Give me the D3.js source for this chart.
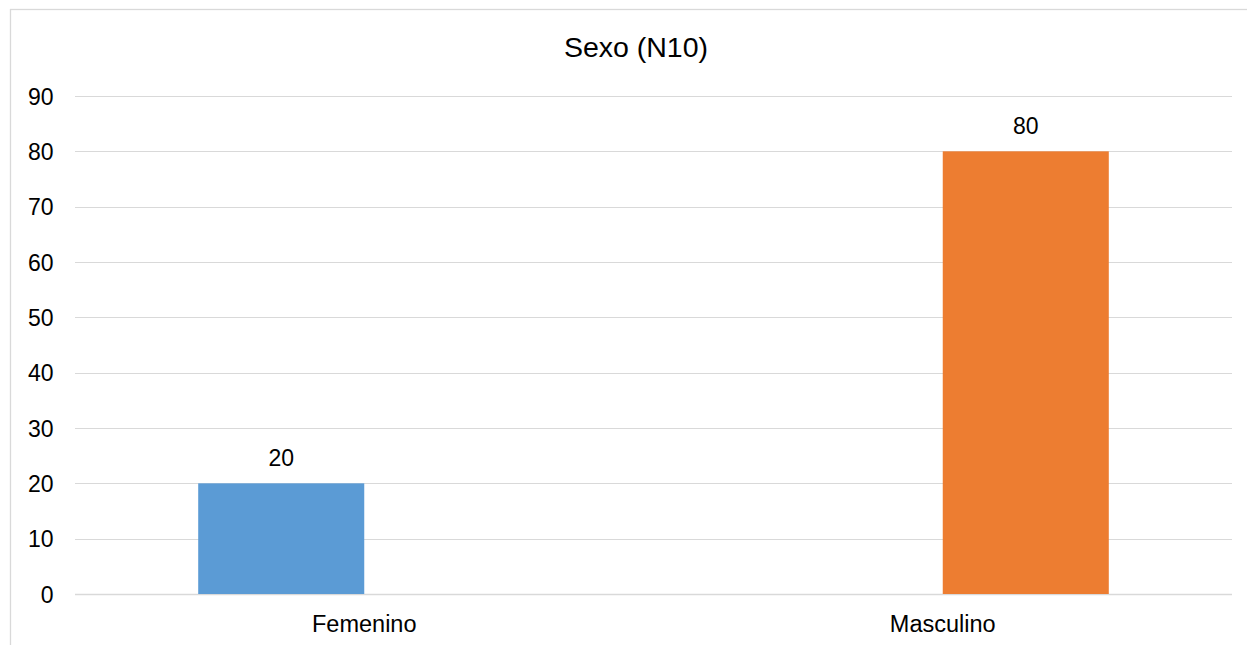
<!DOCTYPE html>
<html>
<head>
<meta charset="utf-8">
<script src="https://cdn.jsdelivr.net/npm/d3@7"></script>
<style>
  html, body { margin: 0; padding: 0; background: #fff; }
  svg { display: block; font-family: "Liberation Sans", Arial, sans-serif; }
</style>
</head>
<body>
<svg id="chart" width="1247" height="645"></svg>
<script>
// Chart data
const title = "Sexo (N10)";
const categories = ["Femenino", "Masculino"];
const seriesNames = ["Femenino", "Masculino"];
const seriesFemenino = [20, null];
const seriesMasculino = [null, 80];
const yTicks = [0, 10, 20, 30, 40, 50, 60, 70, 80, 90];
const colors = ["#5B9BD5", "#ED7D31"];

const svg = d3.select("#chart");
const W = 1247, H = 645;

// Outer chart frame (continues past the right and bottom edges)
svg.append("rect")
  .attr("x", 10.5).attr("y", 9.5)
  .attr("width", 1280).attr("height", 700)
  .attr("fill", "#fff")
  .attr("stroke", "#d9d9d9")
  .attr("stroke-width", 1.3);

const plot = { left: 75, right: 1232, top: 96, bottom: 594 };

const y = d3.scaleLinear().domain([0, 90]).range([plot.bottom, plot.top]);
const x0 = d3.scaleBand().domain(categories).range([plot.left, plot.right]).paddingInner(0).paddingOuter(0);
// Two series share each category slot; gap of ~74% of a bar on each side
const x1 = d3.scaleBand().domain(seriesNames).range([0, x0.bandwidth()]).paddingInner(0).paddingOuter(0.742);

// Gridlines
svg.append("g")
  .selectAll("line")
  .data(yTicks)
  .join("line")
  .attr("x1", plot.left).attr("x2", plot.right)
  .attr("y1", d => Math.round(y(d)) + 0.5).attr("y2", d => Math.round(y(d)) + 0.5)
  .attr("stroke", "#d9d9d9")
  .attr("stroke-width", d => d === 0 ? 1.6 : 1.2);

// Y axis labels
const yAxis = d3.axisLeft(y).tickValues(yTicks).tickSize(0).tickPadding(0);
const gy = svg.append("g").attr("transform", `translate(53.5,0)`).call(yAxis);
gy.select(".domain").remove();
gy.selectAll("text")
  .attr("font-size", "23px")
  .attr("fill", "#000")
  .attr("font-family", "Liberation Sans, Arial, sans-serif")
  .attr("dy", "0.35em");

// X axis labels
const xAxis = d3.axisBottom(x0).tickSize(0).tickPadding(0);
const gx = svg.append("g").attr("transform", `translate(0,${plot.bottom})`).call(xAxis);
gx.select(".domain").remove();
gx.selectAll("text")
  .attr("font-size", "23.5px")
  .attr("fill", "#000")
  .attr("font-family", "Liberation Sans, Arial, sans-serif")
  .attr("dy", null)
  .attr("y", 38);

// Bars
const seriesData = [seriesFemenino, seriesMasculino];
const barData = [];
seriesData.forEach((vals, si) => {
  vals.forEach((v, ci) => {
    if (v !== null) barData.push({ cat: categories[ci], series: seriesNames[si], value: v, color: colors[si] });
  });
});

svg.append("g")
  .selectAll("rect")
  .data(barData)
  .join("rect")
  .attr("x", d => x0(d.cat) + x1(d.series))
  .attr("width", x1.bandwidth())
  .attr("y", d => y(d.value))
  .attr("height", d => y(0) - y(d.value))
  .attr("fill", d => d.color);

// Data labels
svg.append("g")
  .selectAll("text")
  .data(barData)
  .join("text")
  .attr("x", d => x0(d.cat) + x1(d.series) + x1.bandwidth() / 2)
  .attr("y", d => y(d.value) - 17)
  .attr("text-anchor", "middle")
  .attr("font-size", "23px")
  .attr("fill", "#000")
  .text(d => d.value);

// Title
svg.append("text")
  .attr("x", 636)
  .attr("y", 57)
  .attr("text-anchor", "middle")
  .attr("font-size", "28.5px")
  .attr("fill", "#000")
  .text(title);
</script>
</body>
</html>
